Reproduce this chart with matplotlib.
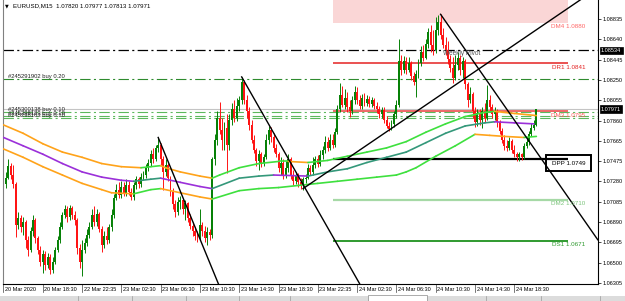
import matplotlib
matplotlib.use("Agg")
import matplotlib.pyplot as plt
from matplotlib.patches import Rectangle
from matplotlib.transforms import ScaledTranslation
import numpy as np

plt.rcParams['font.family'] = ['Liberation Sans', 'DejaVu Sans']
plt.rcParams['lines.scale_dashes'] = False

# EURUSD M15 candles, prices in pips (1e-4); open of each bar = previous close
first_open = 10739
closes_pip = [
    10725, 10731, 10743, 10734, 10725, 10686, 10693, 10684, 10689, 10672,
    10662, 10680, 10691, 10674, 10662, 10651, 10658, 10648, 10655, 10643,
    10651, 10662, 10672, 10684, 10696, 10701, 10694, 10702, 10696, 10691,
    10664, 10651, 10662, 10669, 10677, 10684, 10696, 10689, 10697, 10682,
    10667, 10676, 10672, 10684, 10696, 10712, 10720, 10715, 10723, 10717,
    10724, 10718, 10713, 10724, 10730, 10725, 10732, 10734, 10741, 10746,
    10754, 10749, 10760, 10763, 10749, 10737, 10744, 10731, 10718, 10706,
    10699, 10708, 10710, 10701, 10707, 10693, 10685, 10680, 10676, 10674,
    10686, 10680, 10674, 10679, 10677, 10749, 10768, 10789, 10777, 10768,
    10779, 10763, 10787, 10797, 10789, 10800, 10806, 10823, 10806, 10795,
    10782, 10768, 10758, 10747, 10754, 10746, 10751, 10768, 10777, 10770,
    10760, 10754, 10741, 10746, 10734, 10741, 10749, 10734, 10728, 10733,
    10727, 10724, 10730, 10731, 10741, 10737, 10744, 10749, 10745, 10753,
    10758, 10766, 10760, 10768, 10763, 10775, 10797, 10811, 10801, 10808,
    10799, 10795, 10806, 10814, 10806, 10800, 10808, 10803, 10807, 10802,
    10806, 10800, 10797, 10792, 10796, 10787, 10781, 10778, 10783, 10792,
    10801, 10843, 10835, 10843, 10835, 10841, 10829, 10823, 10831, 10841,
    10852, 10846, 10860, 10871, 10859, 10854, 10873, 10881, 10868, 10859,
    10854, 10845, 10837, 10827, 10839, 10846, 10835, 10843, 10821, 10806,
    10812, 10795, 10785, 10793, 10787, 10795, 10789, 10806, 10799, 10792,
    10795, 10785, 10776, 10768, 10762, 10760, 10767, 10758, 10754, 10751,
    10754, 10751, 10762, 10766, 10773, 10779, 10782, 10797.1]
highs_pip = [
    10743, 10737, 10749, 10746, 10744, 10727, 10699, 10696, 10694, 10691,
    10676, 10684, 10696, 10693, 10676, 10666, 10662, 10661, 10659, 10658,
    10655, 10665, 10676, 10689, 10699, 10705, 10704, 10705, 10704, 10700,
    10693, 10668, 10672, 10674, 10682, 10689, 10701, 10704, 10701, 10699,
    10685, 10680, 10684, 10687, 10701, 10716, 10725, 10727, 10728, 10727,
    10730, 10728, 10722, 10727, 10733, 10732, 10736, 10738, 10745, 10749,
    10758, 10760, 10763, 10770, 10765, 10752, 10749, 10746, 10733, 10722,
    10710, 10713, 10714, 10712, 10710, 10708, 10697, 10689, 10684, 10680,
    10701, 10689, 10685, 10684, 10682, 10751, 10773, 10795, 10804, 10789,
    10785, 10792, 10792, 10803, 10806, 10808, 10810, 10828, 10825, 10811,
    10799, 10787, 10772, 10760, 10758, 10756, 10754, 10773, 10781, 10780,
    10774, 10764, 10756, 10751, 10749, 10747, 10754, 10751, 10739, 10737,
    10736, 10731, 10732, 10735, 10745, 10744, 10751, 10752, 10753, 10758,
    10762, 10771, 10770, 10773, 10773, 10779, 10801, 10822, 10819, 10816,
    10814, 10806, 10810, 10819, 10818, 10811, 10812, 10813, 10811, 10810,
    10809, 10808, 10804, 10800, 10799, 10799, 10791, 10785, 10787, 10795,
    10806, 10864, 10849, 10848, 10847, 10847, 10843, 10833, 10835, 10845,
    10858, 10859, 10864, 10875, 10878, 10873, 10885, 10887, 10888, 10875,
    10866, 10862, 10849, 10847, 10849, 10852, 10849, 10847, 10845, 10823,
    10818, 10814, 10799, 10797, 10797, 10799, 10803, 10820, 10811, 10802,
    10799, 10797, 10787, 10779, 10772, 10768, 10770, 10769, 10763, 10756,
    10756, 10755, 10765, 10770, 10776, 10784, 10787, 10797.7]
lows_pip = [
    10720, 10722, 10730, 10730, 10722, 10675, 10682, 10679, 10677, 10664,
    10656, 10660, 10676, 10669, 10658, 10647, 10640, 10643, 10645, 10639,
    10640, 10649, 10660, 10669, 10682, 10693, 10689, 10691, 10692, 10686,
    10658, 10645, 10637, 10659, 10666, 10674, 10682, 10685, 10685, 10679,
    10660, 10664, 10668, 10669, 10680, 10693, 10710, 10712, 10712, 10714,
    10714, 10715, 10710, 10710, 10721, 10722, 10723, 10729, 10731, 10738,
    10743, 10746, 10747, 10756, 10744, 10720, 10733, 10728, 10714, 10701,
    10694, 10696, 10701, 10697, 10691, 10689, 10682, 10676, 10672, 10670,
    10672, 10676, 10670, 10667, 10672, 10674, 10744, 10763, 10773, 10758,
    10758, 10736, 10758, 10782, 10785, 10786, 10795, 10802, 10802, 10789,
    10777, 10765, 10755, 10743, 10739, 10742, 10743, 10749, 10764, 10766,
    10756, 10751, 10737, 10734, 10730, 10731, 10737, 10730, 10724, 10725,
    10723, 10721, 10720, 10726, 10730, 10734, 10734, 10741, 10742, 10743,
    10749, 10755, 10757, 10758, 10760, 10761, 10773, 10794, 10799, 10797,
    10794, 10790, 10792, 10802, 10802, 10797, 10797, 10800, 10800, 10799,
    10799, 10797, 10793, 10789, 10789, 10784, 10779, 10776, 10777, 10780,
    10789, 10799, 10830, 10832, 10831, 10833, 10825, 10820, 10809, 10827,
    10838, 10843, 10845, 10856, 10852, 10849, 10851, 10868, 10864, 10856,
    10849, 10840, 10833, 10822, 10825, 10835, 10830, 10827, 10816, 10799,
    10803, 10789, 10780, 10781, 10782, 10779, 10785, 10787, 10795, 10789,
    10787, 10780, 10773, 10765, 10758, 10757, 10758, 10755, 10751, 10747,
    10747, 10748, 10749, 10760, 10763, 10771, 10777, 10781.3]

time_labels = ["20 Mar 2020", "20 Mar 18:30", "22 Mar 22:35", "23 Mar 02:30",
               "23 Mar 06:30", "23 Mar 10:30", "23 Mar 14:30", "23 Mar 18:30",
               "23 Mar 22:35", "24 Mar 02:30", "24 Mar 06:30", "24 Mar 10:30",
               "24 Mar 14:30", "24 Mar 18:30"]
bars_per_label = 16

price_ticks = [1.08835, 1.08640, 1.08445, 1.08250, 1.08055, 1.07860, 1.07665,
               1.07475, 1.07280, 1.07085, 1.06890, 1.06695, 1.06500, 1.06305]

# MA envelope (upper / middle / lower), sampled at bars, in pips
upper_bars = [0, 8, 16, 24, 32, 40, 48, 56, 60, 64, 66, 72, 80, 85, 88, 96, 104,
              112, 116, 124, 128, 132, 140, 148, 156, 164, 172, 180, 188, 196, 200, 208, 217]
upper_pip = [10782, 10774, 10764, 10756, 10751, 10745, 10742, 10741, 10742, 10743, 10741,
             10737, 10733, 10731, 10734, 10741, 10745, 10747, 10747, 10746, 10747, 10748,
             10752, 10756, 10760, 10766, 10775, 10783, 10790, 10794, 10795, 10793, 10791]
middle_bars = [0, 8, 16, 24, 32, 40, 48, 53, 60, 64, 72, 80, 85, 96, 104, 110, 124,
               132, 140, 148, 156, 164, 172, 180, 188, 196, 200, 208, 216]
middle_pip = [10770, 10762, 10754, 10745, 10737, 10732, 10729, 10728, 10730, 10731,
              10727, 10723, 10721, 10731, 10733, 10734, 10733, 10737, 10740, 10746,
              10751, 10756, 10765, 10774, 10781, 10784, 10785, 10784, 10783]
lower_bars = [0, 8, 16, 24, 32, 40, 44, 53, 60, 64, 72, 80, 85, 96, 104, 112, 120,
              128, 136, 144, 152, 160, 164, 168, 176, 184, 192, 198, 204, 212, 217]
lower_pip = [10759, 10751, 10742, 10734, 10726, 10720, 10717, 10716, 10720, 10721,
             10717, 10713, 10711, 10719, 10721, 10722, 10724, 10726, 10728, 10730,
             10732, 10734, 10737, 10741, 10752, 10762, 10773, 10772, 10771, 10770, 10771]

# daily pivot levels for 24 Mar (bars 134..230)
pivot_names = ["DR1", "DM3", "DPP", "DM2", "DS1"]
pivot_values = [1.0841, 1.0795, 1.0749, 1.0710, 1.0671]
pivot_line_colors = ["#e42222", "#ee3a3a", "black", "#a6d9a6", "#2f9a2f"]
pivot_text_colors = ["#e42222", "#ff5a5a", "black", "#7cc47c", "#2f9a2f"]
pivot_widths = [1.1, 1.1, 1.6, 1.6, 1.4]
dm4_value = 1.0880
pivot_day = (134, 230)

weekly_pivot = 1.08534
bid_price = 1.07971
orders = ["#245291902 buy 0.20", "#245300138 buy 0.10",
          "#245298183 buy 0.10", "#245298163 buy 0.10"]
order_prices = [1.0826, 1.07940, 1.07905, 1.07885]

# trend lines: (bar, price) anchors
trend_lines = [((63, 1.0770), (88, 1.0627)),
               ((97, 1.0828), (145, 1.0630)),
               ((122, 1.0721), (240, 1.0910)),
               ((178, 1.0888), (242, 1.0672))]

closes = np.array(closes_pip) / 1e4
opens = np.r_[first_open / 1e4, closes[:-1]]
highs = np.maximum(np.array(highs_pip) / 1e4, np.maximum(opens, closes))
lows = np.minimum(np.array(lows_pip) / 1e4, np.minimum(opens, closes))
n = len(closes)
idx = np.arange(n)

fig = plt.figure(figsize=(6.25, 3.01), dpi=100)
fig.patch.set_facecolor("white")
ax = fig.add_axes([3 / 625, 17 / 301, 595 / 625, 284 / 301])
ax.set_xlim(-0.2, 242.1)
ax.set_ylim(1.06296, 1.09017)

dashdot = (0, (7.5, 2.4, 1.5, 2.4))

# pink DM4 zone and pivot lines
ax.add_patch(Rectangle((pivot_day[0], dm4_value), pivot_day[1] - pivot_day[0], 0.005,
                       facecolor="#fad6d6", edgecolor="none", zorder=0))
ax.annotate("DM4 1.0880", (237, dm4_value), xytext=(0, -1), textcoords="offset points",
            ha="right", va="top", fontsize=4.5, color="#ff6666", zorder=6)
for name, val, lc, tc, lw in zip(pivot_names, pivot_values, pivot_line_colors,
                                 pivot_text_colors, pivot_widths):
    ax.plot(pivot_day, [val, val], color=lc, lw=lw, zorder=1, solid_capstyle="butt")
    box = None
    if name == "DPP":
        box = dict(boxstyle="square,pad=0.9", fc="none", ec="black", lw=1.4)
    ax.annotate(f"{name} {val:.4f}", (237, val), xytext=(0, -1), textcoords="offset points",
                ha="right", va="top", fontsize=4.5, color=tc, zorder=6, bbox=box)

# weekly pivot, bid, orders
ax.axhline(weekly_pivot, color="black", lw=0.9, ls=dashdot, zorder=1)
ax.text(179, weekly_pivot, "Weekly Pivot", fontsize=4.7, color="#555555",
        va="top", ha="left", zorder=6)
ax.axhline(bid_price, color="#c4c4c4", lw=0.8, zorder=1)
for k, (txt, p) in enumerate(zip(orders, order_prices)):
    col = "#2e8b2e" if k == 0 else "#5cb85c"
    ax.axhline(p, color=col, lw=0.8, ls=dashdot, zorder=1)
    ax.text(1.8, p, txt, fontsize=4.2, color="#222222", va="bottom", ha="left", zorder=6)

# candles
up = closes >= opens
colors = np.where(up, "#078107", "#ff1414")
ax.vlines(idx, lows, highs, colors=colors, lw=0.7, zorder=2)
body_h = np.maximum(np.abs(closes - opens), 0.00002)
ax.bar(idx, body_h, bottom=np.minimum(opens, closes), width=0.78, color=colors,
       linewidth=0, zorder=2)


def ma_line(bars, pips, up_col, down_col):
    v = np.array(pips) / 1e4
    for i in range(len(bars) - 1):
        col = up_col if v[i + 1] >= v[i] else down_col
        ax.plot(bars[i:i + 2], v[i:i + 2], color=col, lw=1.2, zorder=4,
                solid_capstyle="round")


ma_line(upper_bars, upper_pip, "#3ee03e", "#ffa31a")
ma_line(middle_bars, middle_pip, "#34987a", "#9b30d9")
ma_line(lower_bars, lower_pip, "#3ee03e", "#ffa31a")

# trend lines
for (b0, p0), (b1, p1) in trend_lines:
    ax.plot([b0, b1], [p0, p1], color="black", lw=1.0, zorder=5)

# axes styling
ax.spines["top"].set_visible(False)
ax.spines["left"].set_color("#808080")
ax.spines["left"].set_linewidth(0.8)
ax.spines["right"].set_linewidth(0.8)
ax.spines["bottom"].set_linewidth(0.8)

ax.yaxis.tick_right()
ax.set_yticks(price_ticks)
ax.set_yticklabels([f"{p:.5f}" for p in price_ticks])
ax.tick_params(axis="y", length=2, width=0.5, pad=1.2, labelsize=4)

# time axis: tall MT4-style separators, labels just right of them
label_bars = np.arange(len(time_labels)) * bars_per_label
ax.set_xticks(label_bars)
ax.set_xticklabels(time_labels)
ax.tick_params(axis="x", length=0, pad=2.0, labelsize=4)
shift = ScaledTranslation(1.6 / 100, 0, fig.dpi_scale_trans)
for lbl in ax.get_xticklabels():
    lbl.set_ha("left")
    lbl.set_transform(lbl.get_transform() + shift)
xtr = ax.get_xaxis_transform()
for b in label_bars:
    ax.plot([b, b], [0, -8 / 284], transform=xtr, color="#404040", lw=0.5, clip_on=False)

ytr = ax.get_yaxis_transform()
for p in [weekly_pivot, bid_price]:
    ax.text(1.005, p, f"{p:.5f}", transform=ytr, ha="left", va="center", fontsize=4,
            color="white", clip_on=False,
            bbox=dict(boxstyle="square,pad=0.25", fc="black", ec="black", lw=0.5))

# title
fig.text(5 / 625, 1 - 5.5 / 301, "\u25bc", fontsize=3.5, va="center", ha="left",
         family="DejaVu Sans")
fig.text(12.7 / 625, 1 - 5.5 / 301, "EURUSD,M15  1.07820 1.07977 1.07813 1.07971",
         fontsize=4.4, va="center", ha="left")

# tab bar at the bottom
fig.patches.append(Rectangle((0, 0), 1, 5.5 / 301, transform=fig.transFigure,
                             facecolor="#dcdcdc", edgecolor="none"))
fig.patches.append(Rectangle((368 / 625, 0), 59 / 625, 6 / 301, transform=fig.transFigure,
                             facecolor="white", edgecolor="#8a8a8a", lw=0.5))
for xs in [78, 132, 186, 239, 290, 486, 541, 600]:
    fig.lines.append(plt.Line2D([xs / 625, xs / 625], [0, 5.5 / 301],
                                transform=fig.transFigure, color="#9a9a9a", lw=0.5))

fig.savefig("out.png", dpi=100)
